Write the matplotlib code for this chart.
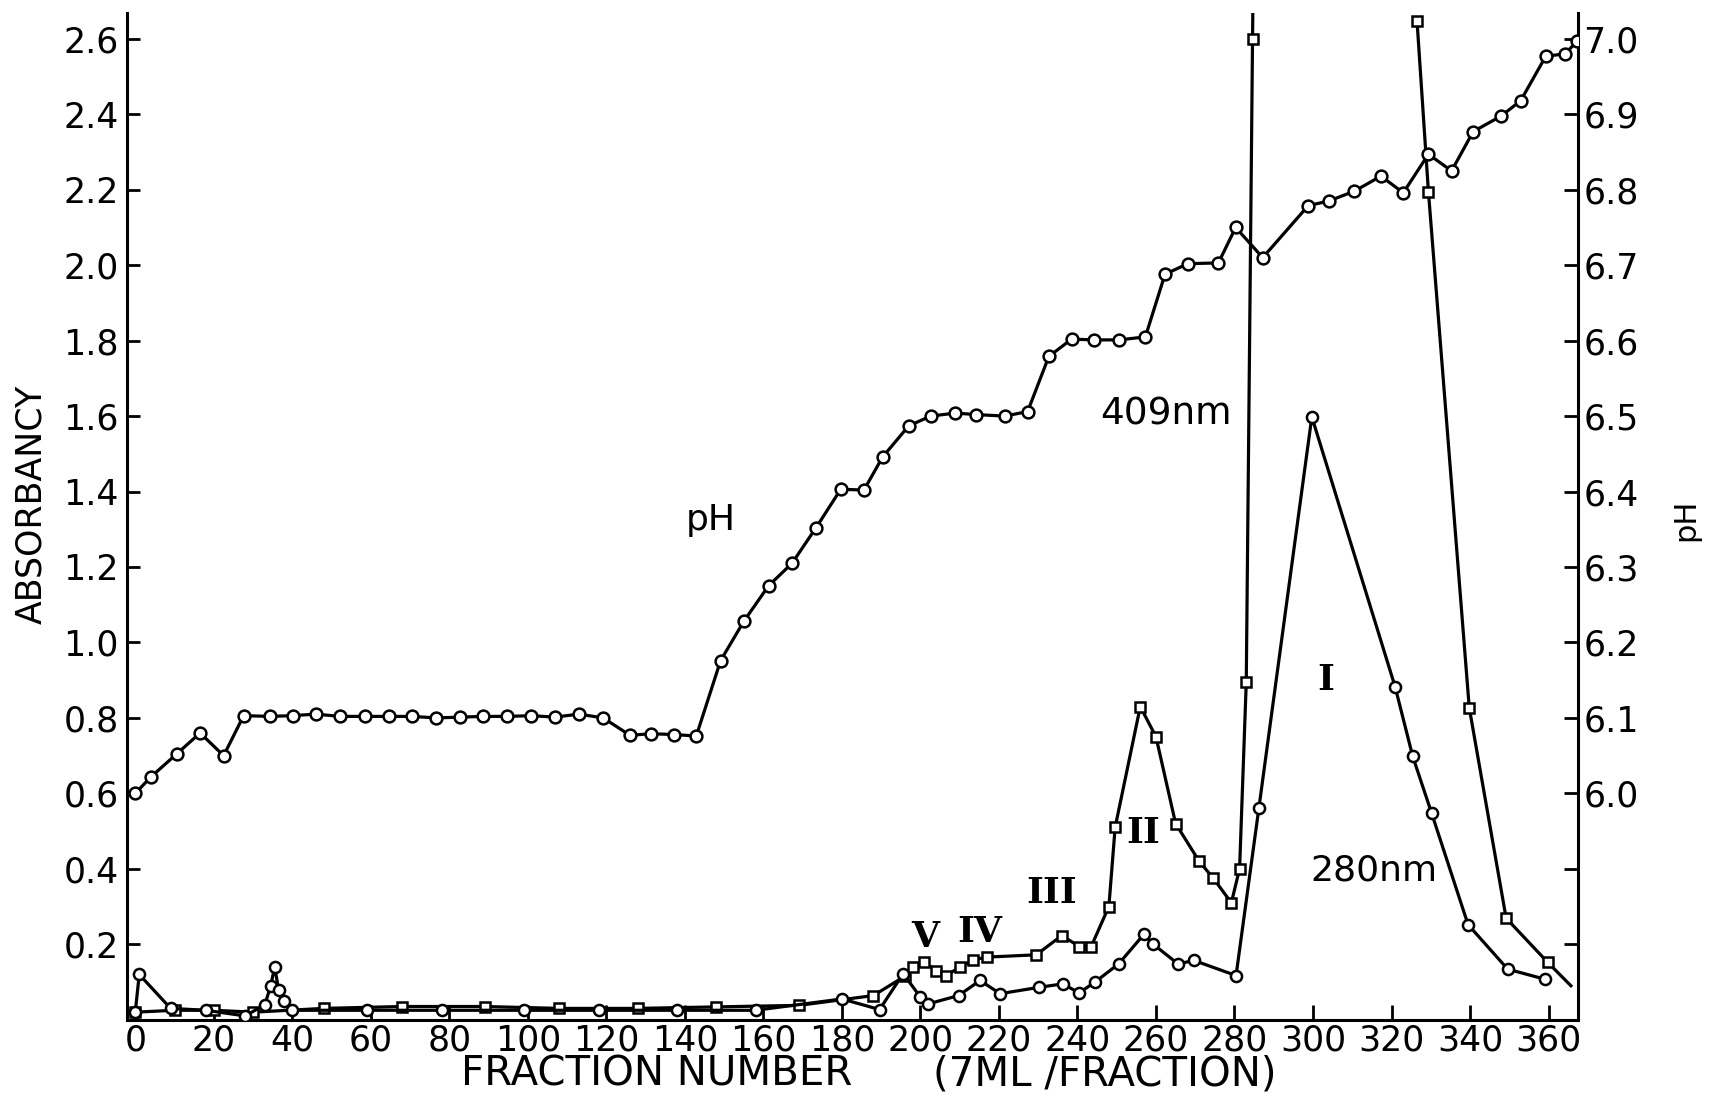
import numpy as np
import matplotlib
matplotlib.use("Agg")
import matplotlib.pyplot as plt

nan = np.nan

# ---------------- data ----------------
# pH gradient (right axis)
ph_x = [0, 4, 10.5, 16.5, 22.5, 27.6, 34.3, 40.1, 46, 52.1, 58.4, 64.5, 70.4, 76.7,
        82.6, 88.6, 94.8, 100.9, 106.8, 113, 119.2, 126, 131.4, 137.2, 142.9, 149.1,
        155, 161.3, 167.3, 173.4, 179.7, 185.6, 190.4, 197, 202.6, 208.9, 214.2,
        221.5, 227.3, 232.7, 238.5, 244.3, 250.7, 257.3, 262.3, 268.1, 275.9, 280.3,
        287.2, 298.8, 304, 310.5, 317.3, 323, 329.4, 335.3, 340.8, 348, 352.9,
        359.3, 364.2, 367.3]
ph_val = [6.00, 6.022, 6.052, 6.08, 6.05, 6.103, 6.102, 6.103, 6.105, 6.102, 6.102,
          6.102, 6.102, 6.10, 6.101, 6.102, 6.102, 6.103, 6.101, 6.105, 6.10, 6.077,
          6.079, 6.078, 6.076, 6.176, 6.228, 6.275, 6.305, 6.352, 6.403, 6.402, 6.446,
          6.487, 6.50, 6.504, 6.502, 6.50, 6.506, 6.579, 6.602, 6.601, 6.601, 6.605,
          6.688, 6.702, 6.703, 6.75, 6.71, 6.779, 6.785, 6.798, 6.818, 6.796, 6.847,
          6.825, 6.877, 6.898, 6.918, 6.977, 6.98, 6.997]

# absorbance at 409 nm (squares)
a409_x = [0, 10, 20, 30, 48, 68, 89, 108, 128, 148, 169, 188, 196, 198, 201, 204,
          206.5, 210, 213.5, 217, 229.5, 236, 240.5, 243.5, 248, 249.6, 256, 260,
          265, 271, 274.6, 279.2, 281.3, 283, 284.6, 284.8, nan, 326.5, 329.4,
          339.8, 349.2, 359.8, 365.7]
a409_y = [0.02, 0.025, 0.025, 0.02, 0.03, 0.035, 0.035, 0.03, 0.03, 0.034, 0.038,
          0.064, 0.115, 0.14, 0.153, 0.13, 0.117, 0.139, 0.159, 0.166, 0.172, 0.223,
          0.194, 0.194, 0.30, 0.51, 0.83, 0.75, 0.52, 0.42, 0.375, 0.31, 0.40, 0.895,
          2.60, 2.80, nan, 2.647, 2.195, 0.827, 0.269, 0.152, 0.09]

# absorbance at 280 nm (circles)
a280_x = [0, 1, 9, 18, 28, 33, 34.5, 35.5, 36.5, 38, 40, 59, 78, 99, 118, 138, 158,
          180, 189.6, 195.6, 200, 202, 209.7, 215.2, 220.3, 230.3, 236.3, 240.4,
          244.5, 250.5, 256.9, 259.2, 265.6, 269.7, 280.4, 286.2, 299.7, 320.9,
          325.4, 330.2, 339.5, 349.6, 359.2]
a280_y = [0.02, 0.12, 0.03, 0.025, 0.01, 0.04, 0.09, 0.14, 0.08, 0.05, 0.025, 0.025,
          0.025, 0.025, 0.025, 0.025, 0.025, 0.055, 0.027, 0.122, 0.06, 0.042, 0.064,
          0.104, 0.069, 0.086, 0.095, 0.071, 0.10, 0.148, 0.226, 0.201, 0.148, 0.157,
          0.117, 0.56, 1.598, 0.883, 0.698, 0.548, 0.252, 0.134, 0.107]

x_ticks = list(range(0, 361, 20))
y_ticks = [0.2, 0.4, 0.6, 0.8, 1.0, 1.2, 1.4, 1.6, 1.8, 2.0, 2.2, 2.4, 2.6]
ph_ticks = [5.8, 5.9, 6.0, 6.1, 6.2, 6.3, 6.4, 6.5, 6.6, 6.7, 6.8, 6.9, 7.0]
ph_labels = ["", "", "6.0", "6.1", "6.2", "6.3", "6.4", "6.5", "6.6", "6.7", "6.8", "6.9", "7.0"]

peak_labels = ["V", "IV", "III", "II", "I"]
peak_pos = [(201.1, 0.218), (215.1, 0.232), (233.3, 0.336), (256.7, 0.495), (303.2, 0.90)]

# ---------------- figure ----------------
plt.rcParams['font.family'] = ['DejaVu Sans']
fig = plt.figure(figsize=(17.1, 10.98), dpi=100)
ax = fig.add_axes([0.0743, 0.0713, 0.8485, 0.9167])
ax2 = ax.twinx()

ymax = 2.668
ax.set_xlim(-2.1, 367.5)
ax.set_ylim(0, ymax)
ax2.set_ylim(5.7, 5.7 + ymax / 2)

lw = 2.3
ax2.plot(ph_x, ph_val, '-o', color='black', lw=lw, ms=8.5, mfc='white',
         mec='black', mew=1.8, zorder=3)
ax.plot(a409_x, a409_y, '-s', color='black', lw=lw, ms=7, mfc='white',
        mec='black', mew=1.8, markevery=list(range(len(a409_x) - 1)), zorder=3)
ax.plot(a280_x, a280_y, '-o', color='black', lw=lw, ms=8, mfc='white',
        mec='black', mew=1.8, zorder=3)

for a in (ax, ax2):
    a.spines['top'].set_visible(False)
    for s in a.spines.values():
        s.set_linewidth(2.2)
ax.spines['right'].set_visible(False)
ax2.spines['left'].set_visible(False)
ax2.spines['bottom'].set_visible(False)

ax.set_xticks(x_ticks)
ax.set_xticklabels([str(t) for t in x_ticks])
ax.set_yticks(y_ticks)
ax.set_yticklabels([f"{t:.1f}" for t in y_ticks])
ax2.set_yticks(ph_ticks)
ax2.set_yticklabels(ph_labels)

ax.tick_params(axis='x', direction='in', length=11, width=2, labelsize=25, pad=3)
ax.tick_params(axis='y', direction='in', length=9, width=2, labelsize=25, pad=6)
ax2.tick_params(axis='y', direction='in', length=10, width=2, labelsize=25, pad=4)

# axis titles
fig.text(31 / 1710, 1 - 504 / 1098, 'ABSORBANCY', rotation=90, fontsize=25,
         ha='center', va='center')
fig.text(1686 / 1710, 1 - 520 / 1098, 'pH', rotation=90, fontsize=22,
         ha='center', va='center')
fig.text(0.384, 0.021, 'FRACTION NUMBER', fontsize=29, ha='center', va='center')
fig.text(0.646, 0.021, '(7ML /FRACTION)', fontsize=29, ha='center', va='center')

# in-plot annotations
ax.text(146.7, 1.324, 'pH', fontsize=26, ha='center', va='center')
ax.text(262.5, 1.605, '409nm', fontsize=27, ha='center', va='center')
ax.text(315.6, 0.396, '280nm', fontsize=26, ha='center', va='center')
for lab, (px, py) in zip(peak_labels, peak_pos):
    ax.text(px, py, lab, fontsize=26, ha='center', va='center',
            family=['DejaVu Serif'], fontweight='bold')

fig.savefig('out.png', dpi=100)
